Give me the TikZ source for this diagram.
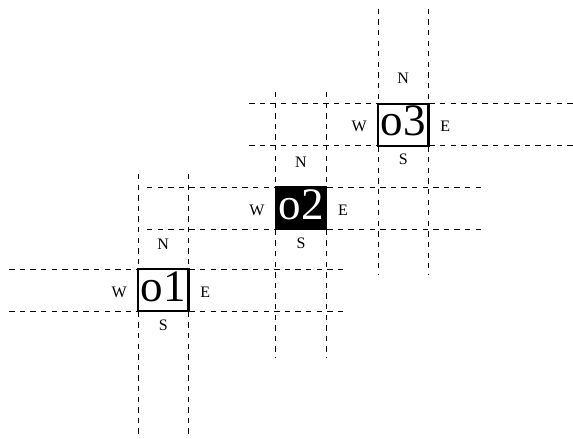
\documentclass[tikz,border=0pt]{standalone}
\usepackage{fontspec}
\setmainfont{Liberation Serif}
\usetikzlibrary{calc,backgrounds}
\tikzset{
  obox/.style={draw=black, line width=2.4pt, outer sep=0pt, fill=white,
    minimum width=49.5pt, minimum height=42pt, inner xsep=2.75pt, inner ysep=2pt,
    text height=30pt, text depth=8pt, font=\fontsize{45}{48}\selectfont},
  darkbox/.style={obox, fill=black, text=white},
  dir/.style={font=\fontsize{16}{18}\selectfont, inner sep=0pt},
  dashline/.style={line width=0.75pt, dash pattern=on 5.3pt off 5.3pt}
}
\begin{document}
\begin{tikzpicture}[x=1pt,y=-1pt]
\path[use as bounding box] (0,0) rectangle (573,439);
\node[obox] (o1) at (163.2,290) {o1};
\node[darkbox] (o2) at (301,208) {o2};
\node[obox] (o3) at (403.2,124.7) {o3};
\foreach \b in {o1,o2,o3}{
  \node[dir] (\b N) at ($(\b)+(0,-46)$) {N};
  \node[dir] (\b S) at ($(\b)+(0,35)$) {S};
  \node[dir] (\b W) at ($(\b)+(-44,2)$) {W};
  \node[dir] (\b E) at ($(\b)+(42,2)$) {E};
  \begin{scope}[on background layer]
    \draw[dashline] ($(\b.north)+(-154,0)$) -- ($(\b.north)+(180,0)$);
    \draw[dashline] ($(\b.south)+(-154,0)$) -- ($(\b.south)+(180,0)$);
    \draw[dashline] ($(\b.west)+(0,-116)$) -- ($(\b.west)+(0,150)$);
    \draw[dashline] ($(\b.east)+(0,-116)$) -- ($(\b.east)+(0,150)$);
  \end{scope}
}
\end{tikzpicture}
\end{document}
